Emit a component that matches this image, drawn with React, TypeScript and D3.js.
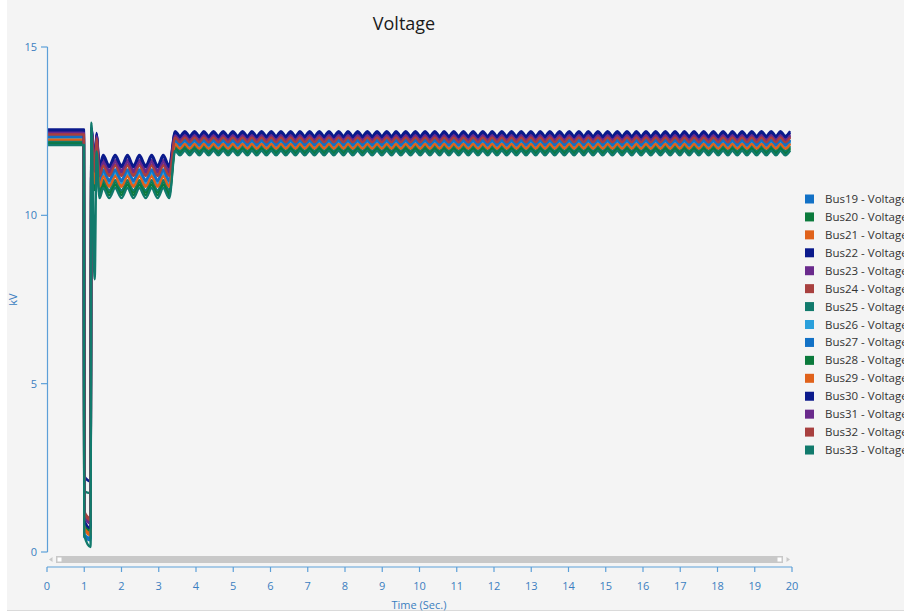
import React from 'react';
import * as d3 from 'd3';

// Bus voltage magnitudes (kV) recorded during a fault and recovery simulation.
const seriesNames = [
  'Bus19 - Voltage', 'Bus20 - Voltage', 'Bus21 - Voltage', 'Bus22 - Voltage', 'Bus23 - Voltage',
  'Bus24 - Voltage', 'Bus25 - Voltage', 'Bus26 - Voltage', 'Bus27 - Voltage', 'Bus28 - Voltage',
  'Bus29 - Voltage', 'Bus30 - Voltage', 'Bus31 - Voltage', 'Bus32 - Voltage', 'Bus33 - Voltage',
];

const seriesColors = [
  '#1271c6', '#0b7a3c', '#e0621b', '#0b1a8c', '#6a2a8c',
  '#a8403f', '#117a6c', '#2aa0dc', '#1271c6', '#0b7a3c',
  '#e0621b', '#0b1a8c', '#6a2a8c', '#a8403f', '#117a6c',
];

// Event instants: pre-fault, fault inception, fault clearing, reclosing swings.
const transientTimes = [0, 0.99, 1.0, 1.17, 1.19, 1.28, 1.33];

// Extremes of the depressed-voltage swing (trough first).
const dipTimes = [1.41, 1.51, 1.67, 1.83, 2.0, 2.16, 2.32, 2.48, 2.65, 2.81, 2.97, 3.12, 3.28];

// Extremes of the post-recovery swing (peak first).
const steadyTimes = [
  3.44, 3.57, 3.7, 3.83, 3.96, 4.09, 4.21, 4.34, 4.47, 4.6, 4.73, 4.86, 4.99, 5.12, 5.25, 5.38,
  5.5, 5.63, 5.76, 5.89, 6.02, 6.15, 6.28, 6.41, 6.54, 6.67, 6.79, 6.92, 7.05, 7.18, 7.31, 7.44,
  7.57, 7.7, 7.83, 7.96, 8.08, 8.21, 8.34, 8.47, 8.6, 8.73, 8.86, 8.99, 9.12, 9.25, 9.37, 9.5,
  9.63, 9.76, 9.89, 10.02, 10.15, 10.28, 10.41, 10.54, 10.66, 10.79, 10.92, 11.05, 11.18, 11.31,
  11.44, 11.57, 11.7, 11.83, 11.95, 12.08, 12.21, 12.34, 12.47, 12.6, 12.73, 12.86, 12.99, 13.12,
  13.24, 13.37, 13.5, 13.63, 13.76, 13.89, 14.02, 14.15, 14.28, 14.41, 14.53, 14.66, 14.79, 14.92,
  15.05, 15.18, 15.31, 15.44, 15.57, 15.7, 15.82, 15.95, 16.08, 16.21, 16.34, 16.47, 16.6, 16.73,
  16.86, 16.99, 17.11, 17.24, 17.37, 17.5, 17.63, 17.76, 17.89, 18.02, 18.15, 18.28, 18.4, 18.53,
  18.66, 18.79, 18.92, 19.05, 19.18, 19.31, 19.44, 19.57, 19.69, 19.82, 19.95,
];

// Per-bus levels, Bus19 .. Bus33.
const preFault = [12.35, 12.17, 12.27, 12.55, 12.48, 12.42, 12.2, 12.3, 12.33, 12.13, 12.25, 12.52, 12.45, 12.4, 12.09];
const faultStart = [0.45, 0.8, 0.75, 2.25, 1.1, 1.2, 1.8, 0.55, 0.5, 0.85, 0.7, 0.95, 1.05, 1.15, 0.5];
const faultEnd = [0.35, 0.6, 0.55, 2.1, 0.9, 1.0, 1.75, 0.4, 0.4, 0.65, 0.5, 0.7, 0.85, 0.95, 0.15];
const recoveryPeak = [12.4, 12.3, 12.35, 12.6, 12.55, 12.5, 12.3, 12.38, 12.4, 12.25, 12.33, 12.58, 12.52, 12.48, 12.75];
const recoveryDip = [11.1, 10.8, 10.95, 11.6, 11.45, 11.35, 10.85, 11.05, 11.1, 10.75, 10.95, 11.55, 11.4, 11.3, 8.1];
const secondPeak = [12.2, 12.0, 12.1, 12.45, 12.38, 12.3, 12.05, 12.15, 12.18, 11.95, 12.08, 12.42, 12.35, 12.28, 11.9];
const dipPeak = [11.36, 10.98, 11.19, 11.79, 11.64, 11.51, 11.04, 11.26, 11.32, 10.9, 11.15, 11.73, 11.58, 11.47, 10.81];
const dipTrough = [11.06, 10.68, 10.89, 11.49, 11.34, 11.21, 10.74, 10.96, 11.02, 10.6, 10.85, 11.43, 11.28, 11.17, 10.51];
const steadyPeak = [12.25, 12.02, 12.15, 12.5, 12.41, 12.34, 12.06, 12.18, 12.22, 11.97, 12.12, 12.46, 12.37, 12.31, 11.92];
const steadyTrough = [12.11, 11.88, 12.01, 12.36, 12.27, 12.2, 11.92, 12.04, 12.08, 11.83, 11.98, 12.32, 12.23, 12.17, 11.78];

const xTicks = d3.range(0, 21);
const yTicks = [0, 5, 10, 15];

const W = 904;
const H = 613;
const FONT = "'Segoe UI', 'Open Sans', 'Noto Sans', sans-serif";
const AXIS = '#5c9fd8';
const LABEL = '#3b7ec0';

type Pt = [number, number];

function buildSeries(i: number): Pt[] {
  const trans = [preFault[i], preFault[i], faultStart[i], faultEnd[i], recoveryPeak[i], recoveryDip[i], secondPeak[i]];
  const pts: Pt[] = transientTimes.map((t, k) => [t, trans[k]]);
  dipTimes.forEach((t, k) => pts.push([t, k % 2 === 0 ? dipTrough[i] : dipPeak[i]]));
  steadyTimes.forEach((t, k) => pts.push([t, k % 2 === 0 ? steadyPeak[i] : steadyTrough[i]]));
  return pts;
}

export default function App() {
  const x = d3.scaleLinear().domain([0, 20]).range([47, 792]);
  const y = d3.scaleLinear().domain([0, 15]).range([552, 47]);
  const line = d3
    .line<Pt>()
    .x((d) => x(d[0]))
    .y((d) => y(d[1]))
    .curve(d3.curveMonotoneX);

  const axisY = 567;
  const legendX = 805;
  const legendY0 = 199;
  const legendStep = 17.93;

  return (
    <div style={{ position: 'fixed', left: 0, top: 0, width: W, height: H, background: '#ffffff' }}>
      <svg width={W} height={H} style={{ display: 'block', fontFamily: FONT }}>
        <rect x={7} y={0} width={W - 7} height={610} fill="#f4f4f4" />
        <line x1={7} x2={W} y1={610.5} y2={610.5} stroke="#dadada" />

        <text x={404} y={30} textAnchor="middle" fontSize={18} fill="#1a1a1a">
          Voltage
        </text>

        <defs>
          <clipPath id="plot-clip">
            <rect x={47} y={40} width={745} height={515} />
          </clipPath>
        </defs>

        <g clipPath="url(#plot-clip)">
          {seriesNames.map((name, i) => (
            <path
              key={name}
              d={line(buildSeries(i)) || ''}
              fill="none"
              stroke={seriesColors[i]}
              strokeWidth={2.4}
              strokeLinejoin="round"
            />
          ))}
        </g>

        {/* Y axis */}
        <line x1={47.5} x2={47.5} y1={y(15)} y2={y(0)} stroke={AXIS} strokeWidth={1.2} />
        {yTicks.map((t) => (
          <g key={t}>
            <line x1={41} x2={47.5} y1={y(t)} y2={y(t)} stroke={AXIS} strokeWidth={1.2} />
            <text x={37} y={y(t) + 4} textAnchor="end" fontSize={11} fill={LABEL}>
              {t}
            </text>
          </g>
        ))}
        <text
          transform={`translate(17, ${y(7.5)}) rotate(-90)`}
          textAnchor="middle"
          fontSize={11}
          fill={LABEL}
        >
          kV
        </text>

        {/* Scroll bar */}
        <rect x={56} y={556} width={727} height={7} fill="#c8c8c8" />
        <path d="M49,559.5 L52.5,557 L52.5,562 Z" fill="#c8c8c8" />
        <path d="M790,559.5 L786.5,557 L786.5,562 Z" fill="#c8c8c8" />
        <rect x={57.5} y={557.5} width={4} height={4} fill="#ffffff" />
        <rect x={777.5} y={557.5} width={4} height={4} fill="#ffffff" />

        {/* X axis */}
        <line x1={x(0)} x2={x(20)} y1={axisY} y2={axisY} stroke={AXIS} strokeWidth={1.2} />
        {xTicks.map((t) => (
          <g key={t}>
            <line x1={x(t)} x2={x(t)} y1={axisY} y2={axisY + 5} stroke={AXIS} strokeWidth={1.2} />
            <text x={x(t)} y={590} textAnchor="middle" fontSize={11} fill={LABEL}>
              {t}
            </text>
          </g>
        ))}
        <text x={419} y={609} textAnchor="middle" fontSize={11} fill={LABEL}>
          Time (Sec.)
        </text>

        {/* Legend */}
        {seriesNames.map((name, i) => (
          <g key={name} transform={`translate(${legendX}, ${legendY0 + i * legendStep})`}>
            <rect x={0} y={-4.5} width={9} height={9} fill={seriesColors[i]} />
            <text x={20} y={4} fontSize={11.5} fill="#333333">
              {name}
            </text>
          </g>
        ))}
      </svg>
    </div>
  );
}
